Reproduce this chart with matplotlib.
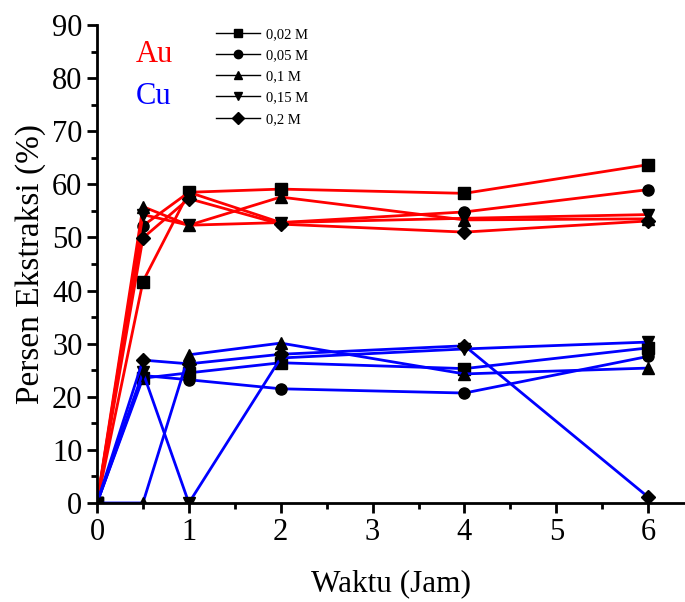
import matplotlib
matplotlib.use("Agg")
import matplotlib.pyplot as plt
from matplotlib.lines import Line2D
from matplotlib.ticker import MultipleLocator

plt.rcParams['font.family'] = ['Liberation Serif', 'DejaVu Serif']

time_h = [0, 0.5, 1, 2, 4, 6]
labels = ["0,02 M", "0,05 M", "0,1 M", "0,15 M", "0,2 M"]
markers = ["s", "o", "^", "v", "D"]

au_002 = [0, 41.7, 58.5, 59.1, 58.3, 63.7]
au_005 = [0, 52.2, 58.5, 52.8, 54.8, 59.0]
au_01 = [0, 55.8, 52.3, 57.6, 53.3, 53.5]
au_015 = [0, 54.3, 52.3, 52.8, 53.6, 54.3]
au_02 = [0, 49.9, 57.3, 52.5, 51.0, 53.1]

cu_002 = [0, 23.5, 24.5, 26.4, 25.3, 29.2]
cu_005 = [0, 24.0, 23.2, 21.5, 20.7, 27.6]
cu_01 = [0, 0, 27.9, 30.1, 24.3, 25.4]
cu_015 = [0, 24.6, 0, 27.3, 29.0, 30.3]
cu_02 = [0, 26.9, 26.2, 28.0, 29.6, 1.1]

au = [au_002, au_005, au_01, au_015, au_02]
cu = [cu_002, cu_005, cu_01, cu_015, cu_02]

fig = plt.figure(figsize=(6.85, 6.02), dpi=100)
ax = fig.add_axes([0.1416, 0.1645, 0.8584, 0.794])

for ys, m in zip(au, markers):
    ms = 7 if m == "D" else 8
    ax.plot(time_h, ys, color="#ff0000", lw=2.0, marker=m, ms=ms,
            mfc="black", mec="black")
for ys, m in zip(cu, markers):
    ms = 7 if m == "D" else 8
    ax.plot(time_h, ys, color="#0000ff", lw=2.0, marker=m, ms=ms,
            mfc="black", mec="black")

ax.set_xlim(0, 6.4)
ax.set_ylim(0, 90)
ax.xaxis.set_major_locator(MultipleLocator(1))
ax.xaxis.set_minor_locator(MultipleLocator(0.5))
ax.yaxis.set_major_locator(MultipleLocator(10))
ax.yaxis.set_minor_locator(MultipleLocator(5))
ax.set_xticks([0, 1, 2, 3, 4, 5, 6])
ax.spines['top'].set_visible(False)
ax.spines['right'].set_visible(False)
for s in ['left', 'bottom']:
    ax.spines[s].set_linewidth(2)
ax.tick_params(which='major', direction='out', length=7, width=2, labelsize=22)
ax.tick_params(which='minor', direction='out', length=4, width=2)

ax.set_xlabel("Waktu (Jam)", fontsize=22.5, labelpad=16)
ax.set_ylabel("Persen Ekstraksi (%)", fontsize=24, labelpad=4)

ax.text(0.42, 84.5, "Au", color="#ff0000", fontsize=22, ha="left", va="center")
ax.text(0.42, 76.5, "Cu", color="#0000ff", fontsize=22, ha="left", va="center")

handles = [Line2D([0], [0], color="black", lw=1, marker=m, ms=6,
                  mfc="black", mec="black") for m in markers]
leg = ax.legend(handles, labels, loc="upper left", bbox_to_anchor=(0.18, 1.022),
                frameon=False, fontsize=10.5, handlelength=3.0, handletextpad=0.4,
                labelspacing=0.55)

fig.savefig("out.png", dpi=100)
